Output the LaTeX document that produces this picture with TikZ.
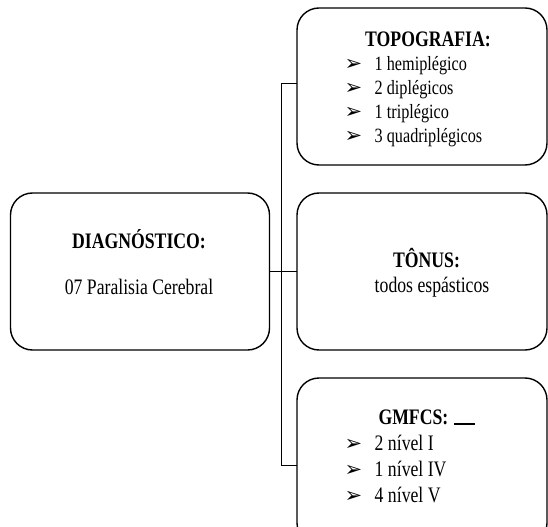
\documentclass[tikz,border=0pt]{standalone}
\usepackage{graphicx}
\usepackage{fontspec}
\setmainfont{Liberation Serif}
\newfontfamily\dvfont{DejaVu Sans}
\newcommand\vstr[1]{\scalebox{1}[1.25]{#1}}
\begin{document}
\begin{tikzpicture}[x=1bp,y=-1bp,
  box/.style={draw=black,line width=1.4bp,rounded corners=22bp,inner sep=0pt,outer sep=0pt},
  conn/.style={draw=black,line width=0.9bp},
  txt/.style={inner sep=0pt,outer sep=0pt,anchor=base,font=\fontsize{17.7bp}{18bp}\selectfont},
  ttl/.style={txt,font=\fontsize{17.7bp}{18bp}\selectfont\bfseries},
  itm/.style={txt,anchor=base west},
  sitm/.style={itm,font=\fontsize{16.2bp}{18bp}\selectfont},
  bul/.style={inner sep=0pt,outer sep=0pt,anchor=base west,font=\dvfont\fontsize{21bp}{21bp}\selectfont}]
\useasboundingbox (0,0) rectangle (548,527);
\clip (0,0) rectangle (548,527);
% boxes
\node[box,minimum width=259bp,minimum height=157bp] (diag) at (140,271.5) {};
\node[box,minimum width=250bp,minimum height=157bp] (topo) at (422,86.5) {};
\node[box,minimum width=250bp,minimum height=157bp] (tonus) at (422,271.5) {};
\node[box,minimum width=250bp,minimum height=167bp] (gmfcs) at (422,461.5) {};
% connectors
\coordinate (jt) at (281.5,83.5);
\coordinate (jb) at (281.5,465.5);
\draw[conn] (diag.east) -- (tonus.west);
\draw[conn] (jt) -- (jb);
\draw[conn] (jt) -- (jt -| topo.west);
\draw[conn] (jb) -- (jb -| gmfcs.west);
% diagnostico
\node[ttl] (dt) at (139,248.5) {\vstr{DIAGNÓSTICO:}};
\node[txt] (ds) at (139,294) {\vstr{07 Paralisia Cerebral}};
% topografia
\node[ttl] (tt) at (428,47) {\vstr{TOPOGRAFIA:}};
\node[bul] (tb1) at (344.5,70.6) {➢};
\node[sitm] (ti1) at (374.7,70.6) {\vstr{1 hemiplégico}};
\node[bul] (tb2) at (344.5,94.8) {➢};
\node[sitm] (ti2) at (374.7,94.8) {\vstr{2 diplégicos}};
\node[bul] (tb3) at (344.5,118.8) {➢};
\node[sitm] (ti3) at (374.7,118.8) {\vstr{1 triplégico}};
\node[bul] (tb4) at (344.5,142.9) {➢};
\node[sitm] (ti4) at (374.7,142.9) {\vstr{3 quadriplégicos}};
% tonus
\node[ttl] (nt) at (426.5,267) {\vstr{TÔNUS:}};
\node[txt] (ns) at (432,292.5) {\vstr{todos espásticos}};
% gmfcs
\node[ttl,anchor=base west] (gt) at (378.5,424) {\vstr{GMFCS:}};
\coordinate (ul1) at (454,424);
\coordinate (ul2) at (475,424);
\draw[line width=1.2bp] (ul1) -- (ul2);
\node[bul] (gb1) at (344.5,450.4) {➢};
\node[itm] (gi1) at (374.7,450.4) {\vstr{2 nível I}};
\node[bul] (gb2) at (344.5,476.6) {➢};
\node[itm] (gi2) at (374.7,476.6) {\vstr{1 nível IV}};
\node[bul] (gb3) at (344.5,502.5) {➢};
\node[itm] (gi3) at (374.7,502.5) {\vstr{4 nível V}};
\end{tikzpicture}
\end{document}
